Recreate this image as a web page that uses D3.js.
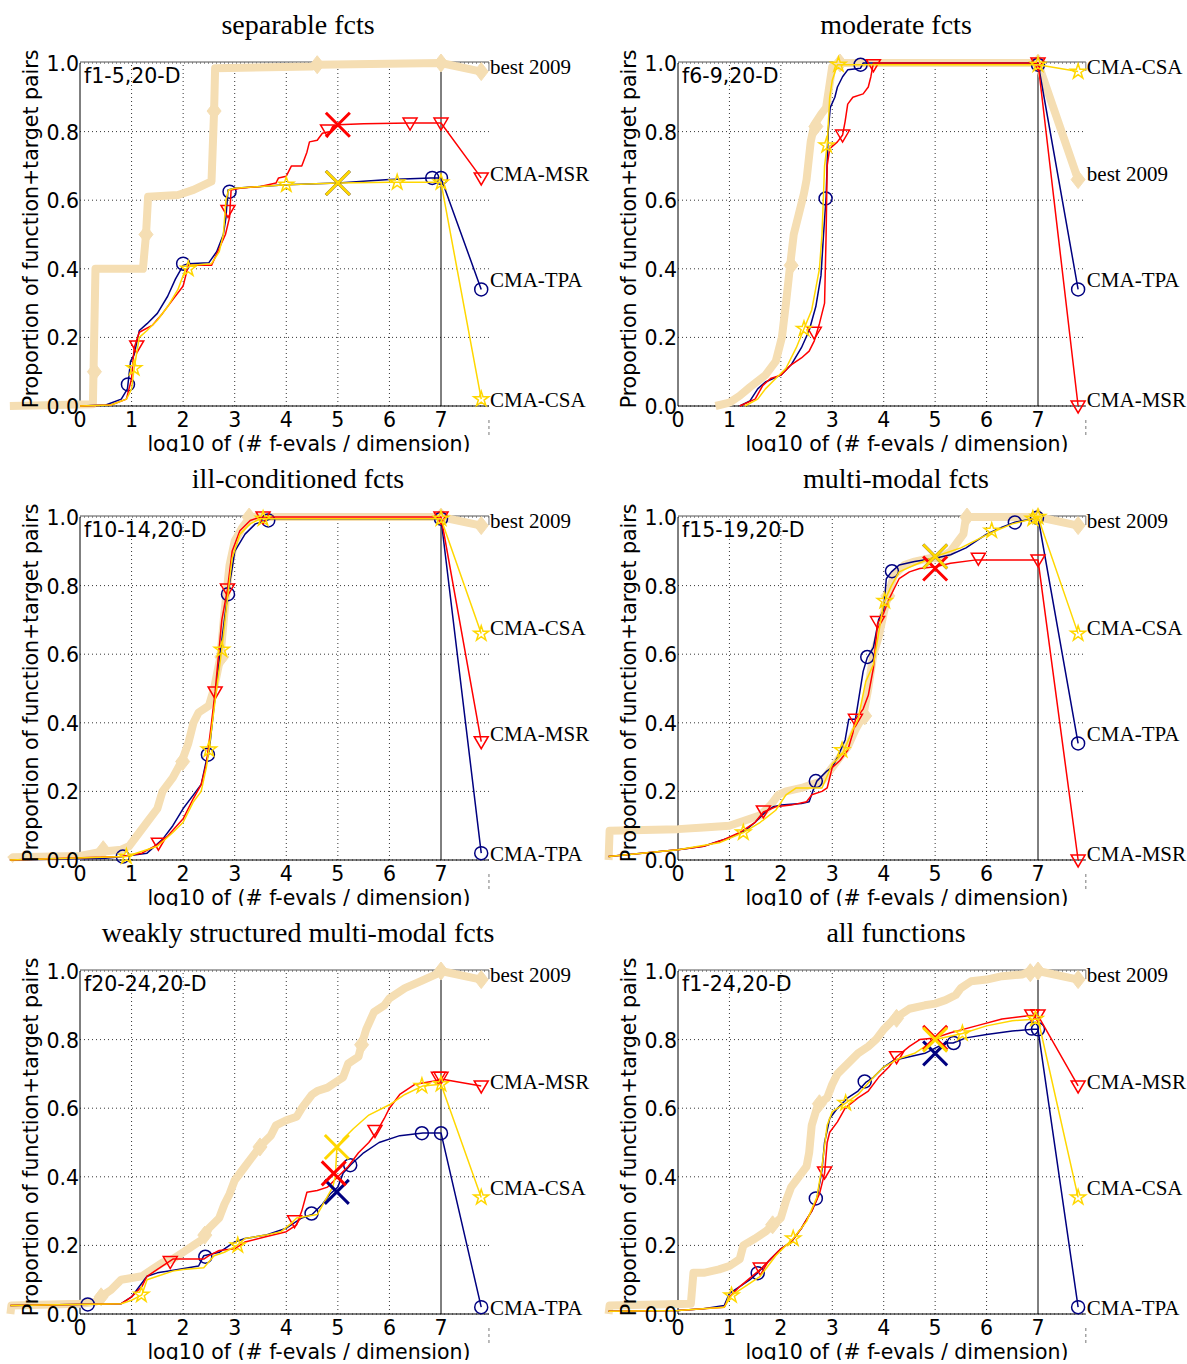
<!DOCTYPE html>
<html lang="en">
<head>
    <meta charset="UTF-8">
    <title>ECDF 20-D</title>
    <script src="https://cdn.jsdelivr.net/npm/d3@7"></script>
    <style>
        body { margin: 0; background: #fff; }
    </style>
</head>
<body>
<script type="text/javascript">
    // ---- data ----
    var titles = ['separable fcts', 'moderate fcts', 'ill-conditioned fcts', 'multi-modal fcts',
        'weakly structured multi-modal fcts', 'all functions'];
    var funcGroups = ['f1-5,20-D', 'f6-9,20-D', 'f10-14,20-D', 'f15-19,20-D', 'f20-24,20-D', 'f1-24,20-D'];
    var algNames = ['best 2009', 'CMA-TPA', 'CMA-MSR', 'CMA-CSA'];
    var xTicks = [0, 1, 2, 3, 4, 5, 6, 7];
    var yTicks = [0, 0.2, 0.4, 0.6, 0.8, 1.0];
    var xLabel = 'log10 of (# f-evals / dimension)';
    var yLabel = 'Proportion of function+target pairs';

    // panel 1 : f1-5
    var p1Best = [[-1.36,0],[0.25,0.005],[0.3,0.4],[1.22,0.4],[1.28,0.5],[1.32,0.61],[1.9,0.615],[2.2,0.63],[2.55,0.655],[2.6,0.86],[2.62,0.985],[4.5,0.99],[4.6,0.995],[7,1.0],[7.78,0.975]];
    var p1BestM = [[0.28,0.1],[1.28,0.5],[2.6,0.86],[4.6,0.995],[7,1.0],[7.78,0.975]];
    var p1Tpa = [[0,0],[0.5,0.003],[0.8,0.02],[0.92,0.05],[0.98,0.13],[1.05,0.15],[1.15,0.22],[1.3,0.24],[1.5,0.27],[1.7,0.32],[1.85,0.37],[2.0,0.41],[2.1,0.415],[2.5,0.418],[2.65,0.45],[2.78,0.5],[2.83,0.55],[2.87,0.63],[3.0,0.635],[3.5,0.64],[4,0.645],[5,0.65],[6,0.66],[6.8,0.665],[7,0.665],[7.78,0.34]];
    var p1TpaM = [[0.93,0.063],[2.0,0.415],[2.9,0.625],[6.83,0.665],[7,0.665],[7.78,0.34]];
    var p1Msr = [[0,0],[0.6,0.003],[0.9,0.02],[1.0,0.08],[1.05,0.17],[1.15,0.215],[1.4,0.235],[1.6,0.27],[1.8,0.31],[2.0,0.35],[2.1,0.41],[2.55,0.41],[2.7,0.46],[2.82,0.5],[2.9,0.55],[2.93,0.63],[3.1,0.635],[3.5,0.64],[3.8,0.65],[3.85,0.665],[4.0,0.67],[4.1,0.7],[4.3,0.7],[4.4,0.74],[4.45,0.77],[4.6,0.775],[4.7,0.795],[4.85,0.8],[4.9,0.815],[5,0.82],[5.5,0.823],[6.4,0.825],[7,0.825],[7.78,0.665]];
    var p1MsrM = [[1.1,0.175],[2.87,0.57],[4.8,0.805],[6.4,0.825],[7,0.825],[7.78,0.665]];
    var p1Csa = [[0,0],[0.6,0.003],[0.9,0.02],[1.0,0.05],[1.05,0.11],[1.15,0.2],[1.3,0.22],[1.5,0.25],[1.7,0.29],[1.9,0.34],[2.05,0.4],[2.15,0.41],[2.55,0.415],[2.7,0.45],[2.78,0.5],[2.83,0.6],[2.88,0.63],[3.0,0.635],[3.5,0.64],[4,0.645],[5,0.65],[6,0.652],[7,0.652],[7.78,0.02]];
    var p1CsaM = [[1.05,0.11],[2.1,0.4],[4.0,0.645],[6.15,0.652],[7,0.652],[7.78,0.02]];
    var p1Cross = [null, [5, 0.65], [5, 0.82], [5, 0.65]];
    var p1LabelY = [0.988, 0.367, 0.676, 0.017];

    // panel 2 : f6-9
    var p2Best = [[0.73,0],[1.0,0.01],[1.2,0.03],[1.4,0.055],[1.7,0.09],[1.9,0.13],[2.02,0.2],[2.1,0.3],[2.18,0.41],[2.25,0.5],[2.35,0.56],[2.45,0.62],[2.5,0.66],[2.58,0.77],[2.65,0.82],[2.78,0.85],[2.88,0.87],[2.95,0.94],[3.0,0.99],[3.15,1.0],[7,1.0],[7.78,0.66]];
    var p2BestM = [[2.2,0.41],[2.68,0.815],[3.15,1.0],[7,1.0],[7.78,0.66]];
    var p2Tpa = [[1.2,0],[1.4,0.015],[1.55,0.05],[1.7,0.07],[2.0,0.09],[2.2,0.12],[2.4,0.17],[2.55,0.22],[2.68,0.29],[2.78,0.38],[2.83,0.5],[2.88,0.61],[2.92,0.8],[2.96,0.87],[3.05,0.9],[3.1,0.93],[3.2,0.96],[3.3,0.98],[3.55,0.985],[3.6,1.0],[7,1.0],[7.78,0.34]];
    var p2TpaM = [[2.87,0.605],[3.55,0.995],[7,0.995],[7.78,0.34]];
    var p2Msr = [[1.2,0],[1.5,0.02],[1.65,0.06],[1.8,0.08],[2.0,0.09],[2.2,0.12],[2.4,0.14],[2.55,0.16],[2.65,0.19],[2.75,0.24],[2.85,0.3],[2.88,0.5],[2.9,0.7],[2.95,0.75],[3.1,0.77],[3.2,0.79],[3.25,0.83],[3.3,0.88],[3.4,0.9],[3.6,0.91],[3.7,0.93],[3.75,0.96],[3.8,1.0],[7,1.0],[7.78,0.0]];
    var p2MsrM = [[2.65,0.215],[3.2,0.79],[3.8,0.995],[7,1.0],[7.78,0.0]];
    var p2Csa = [[1.3,0],[1.55,0.02],[1.7,0.05],[1.9,0.08],[2.1,0.11],[2.3,0.17],[2.45,0.225],[2.6,0.28],[2.75,0.4],[2.8,0.5],[2.85,0.7],[2.9,0.76],[2.95,0.9],[3.0,0.95],[3.1,0.995],[7,0.995],[7.78,0.975]];
    var p2CsaM = [[2.45,0.225],[2.89,0.76],[3.12,0.995],[7,0.995],[7.78,0.975]];
    var p2Cross = [null, null, null, null];
    var p2LabelY = [0.676, 0.367, 0.017, 0.988];

    // panel 3 : f10-14
    var p3Best = [[-1.36,0],[-1.3,0.008],[0,0.012],[0.45,0.025],[0.8,0.03],[0.95,0.04],[1.1,0.07],[1.3,0.11],[1.5,0.15],[1.6,0.2],[1.8,0.24],[1.98,0.29],[2.1,0.34],[2.2,0.4],[2.3,0.43],[2.5,0.45],[2.6,0.5],[2.72,0.59],[2.8,0.72],[2.9,0.86],[3.0,0.93],[3.15,0.97],[3.3,1.0],[7,1.0],[7.78,0.975]];
    var p3BestM = [[0.45,0.03],[1.99,0.287],[2.75,0.592],[3.28,1.0],[7,1.0],[7.78,0.975]];
    var p3Tpa = [[-1.36,0],[0.5,0.005],[0.83,0.01],[1.3,0.02],[1.6,0.06],[1.8,0.1],[2.0,0.15],[2.2,0.19],[2.35,0.22],[2.45,0.29],[2.5,0.31],[2.6,0.45],[2.7,0.58],[2.8,0.7],[2.87,0.78],[2.95,0.85],[3.0,0.9],[3.2,0.95],[3.4,0.98],[3.6,0.99],[3.7,0.995],[7,0.995],[7.78,0.02]];
    var p3TpaM = [[0.83,0.01],[2.48,0.307],[2.87,0.775],[3.65,0.99],[7,0.995],[7.78,0.02]];
    var p3Msr = [[-1.36,0],[0.8,0.01],[1.2,0.02],[1.5,0.045],[1.7,0.07],[2.0,0.12],[2.2,0.18],[2.35,0.22],[2.45,0.28],[2.55,0.4],[2.62,0.49],[2.75,0.7],[2.86,0.79],[2.95,0.9],[3.1,0.96],[3.3,0.99],[3.5,1.0],[7,1.0],[7.78,0.345]];
    var p3MsrM = [[1.52,0.049],[2.62,0.49],[2.86,0.79],[3.55,1.0],[7,1.0],[7.78,0.345]];
    var p3Csa = [[-1.36,0],[0.9,0.01],[1.5,0.04],[1.8,0.08],[2.0,0.11],[2.2,0.17],[2.35,0.2],[2.45,0.27],[2.5,0.32],[2.65,0.5],[2.75,0.615],[2.85,0.75],[2.95,0.88],[3.1,0.95],[3.3,0.98],[3.5,0.995],[7,0.995],[7.78,0.66]];
    var p3CsaM = [[0.9,0.01],[2.5,0.322],[2.75,0.613],[3.55,0.995],[7,0.995],[7.78,0.66]];
    var p3Cross = [null, null, null, null];
    var p3LabelY = [0.988, 0.017, 0.367, 0.676];

    // panel 4 : f15-19
    var p4Best = [[-1.35,0],[-1.33,0.085],[0,0.09],[0.5,0.095],[1.0,0.1],[1.3,0.115],[1.6,0.13],[1.8,0.16],[1.95,0.19],[2.1,0.2],[2.4,0.21],[2.6,0.22],[2.8,0.23],[3.0,0.27],[3.15,0.3],[3.3,0.33],[3.45,0.38],[3.6,0.42],[3.7,0.5],[3.8,0.6],[3.9,0.65],[4.0,0.72],[4.08,0.77],[4.2,0.83],[4.4,0.86],[4.6,0.87],[4.9,0.88],[5.1,0.88],[5.3,0.9],[5.45,0.93],[5.55,0.95],[5.6,1.0],[7,1.0],[7.78,0.975]];
    var p4BestM = [[3.63,0.42],[4.08,0.77],[5.62,1.0],[7,1.0],[7.78,0.975]];
    var p4Tpa = [[-1.35,0.01],[0,0.03],[0.5,0.04],[1.0,0.065],[1.3,0.085],[1.5,0.11],[1.7,0.14],[1.85,0.155],[2.0,0.16],[2.4,0.165],[2.55,0.17],[2.62,0.2],[2.7,0.23],[2.9,0.26],[3.0,0.27],[3.1,0.3],[3.25,0.35],[3.32,0.41],[3.45,0.41],[3.6,0.55],[3.68,0.59],[3.8,0.62],[3.9,0.7],[4.0,0.73],[4.05,0.82],[4.15,0.84],[4.3,0.86],[4.6,0.87],[5.0,0.88],[5.3,0.89],[5.6,0.91],[6.0,0.95],[6.3,0.97],[6.55,0.985],[6.9,0.995],[7,1.0],[7.78,0.34]];
    var p4TpaM = [[2.68,0.23],[3.68,0.592],[4.16,0.842],[6.55,0.984],[6.98,0.998],[7.78,0.34]];
    var p4Msr = [[-1.35,0.01],[0,0.03],[0.5,0.04],[0.9,0.06],[1.2,0.08],[1.5,0.11],[1.66,0.14],[1.9,0.155],[2.2,0.16],[2.5,0.17],[2.6,0.19],[2.8,0.2],[2.9,0.21],[3.0,0.27],[3.15,0.29],[3.3,0.32],[3.4,0.37],[3.45,0.41],[3.6,0.44],[3.7,0.48],[3.8,0.56],[3.88,0.69],[4.0,0.72],[4.1,0.76],[4.2,0.79],[4.3,0.82],[4.5,0.84],[4.7,0.85],[5.0,0.855],[5.3,0.865],[5.8,0.875],[7,0.875],[7.78,0.0]];
    var p4MsrM = [[1.66,0.143],[3.45,0.41],[3.88,0.695],[5.84,0.88],[7,0.875],[7.78,0.0]];
    var p4Csa = [[-1.35,0.01],[0,0.03],[0.8,0.05],[1.27,0.08],[1.6,0.11],[1.9,0.145],[2.1,0.19],[2.3,0.21],[2.8,0.21],[3.0,0.28],[3.2,0.31],[3.4,0.38],[3.5,0.41],[3.65,0.52],[3.8,0.57],[3.9,0.66],[4.0,0.75],[4.15,0.8],[4.3,0.84],[4.6,0.86],[5.0,0.885],[5.5,0.91],[6.1,0.955],[6.5,0.98],[6.9,0.995],[7,1.0],[7.78,0.66]];
    var p4CsaM = [[1.27,0.08],[3.19,0.32],[4.02,0.755],[6.1,0.96],[6.9,0.995],[7,1.0],[7.78,0.66]];
    var p4Cross = [null, [5, 0.885], [5, 0.85], [5, 0.885]];
    var p4LabelY = [0.988, 0.367, 0.017, 0.676];

    // panel 5 : f20-24
    var p5Best = [[-1.35,0],[-1.33,0.025],[0,0.03],[0.3,0.035],[0.4,0.05],[0.6,0.07],[0.8,0.1],[1.0,0.105],[1.2,0.11],[1.4,0.13],[1.6,0.15],[1.8,0.16],[2.0,0.18],[2.2,0.2],[2.4,0.22],[2.5,0.25],[2.7,0.28],[2.8,0.32],[2.9,0.35],[3.0,0.39],[3.2,0.43],[3.4,0.47],[3.5,0.49],[3.7,0.52],[3.8,0.55],[4.0,0.565],[4.2,0.575],[4.3,0.6],[4.5,0.64],[4.6,0.65],[4.8,0.66],[5.0,0.68],[5.1,0.69],[5.2,0.73],[5.3,0.74],[5.4,0.75],[5.45,0.78],[5.55,0.83],[5.7,0.88],[5.9,0.9],[6.0,0.92],[6.3,0.95],[6.6,0.97],[6.9,0.99],[7,1.0],[7.78,0.975]];
    var p5BestM = [[0.41,0.05],[2.42,0.23],[3.49,0.487],[5.46,0.785],[7,1.0],[7.78,0.975]];
    var p5Tpa = [[-1.35,0.025],[0.8,0.03],[1.0,0.05],[1.15,0.08],[1.3,0.11],[1.5,0.12],[1.9,0.13],[2.3,0.14],[2.4,0.17],[2.7,0.18],[2.9,0.2],[3.0,0.21],[3.2,0.22],[3.6,0.23],[4.0,0.25],[4.3,0.28],[4.5,0.29],[4.7,0.32],[4.85,0.35],[5.0,0.37],[5.1,0.41],[5.25,0.435],[5.5,0.47],[5.8,0.5],[6.2,0.52],[6.65,0.528],[7,0.528],[7.78,0.02]];
    var p5TpaM = [[0.15,0.028],[2.43,0.167],[4.49,0.293],[5.24,0.434],[6.63,0.527],[7,0.527],[7.78,0.02]];
    var p5Msr = [[-1.35,0.025],[0.8,0.03],[1.0,0.05],[1.2,0.08],[1.3,0.11],[1.5,0.13],[1.75,0.155],[1.8,0.16],[2.4,0.16],[2.5,0.17],[2.7,0.185],[3.0,0.19],[3.2,0.21],[3.6,0.225],[4.0,0.24],[4.2,0.26],[4.3,0.3],[4.4,0.355],[4.6,0.36],[4.8,0.37],[4.9,0.385],[5.0,0.4],[5.2,0.43],[5.4,0.47],[5.6,0.5],[5.75,0.53],[5.9,0.57],[6.0,0.6],[6.2,0.64],[6.5,0.67],[6.9,0.68],[7,0.685],[7.78,0.665]];
    var p5MsrM = [[1.75,0.153],[4.16,0.272],[5.72,0.535],[6.95,0.69],[7,0.69],[7.78,0.665]];
    var p5Csa = [[-1.35,0.025],[0.8,0.03],[1.0,0.04],[1.2,0.056],[1.3,0.1],[1.5,0.11],[1.8,0.125],[2.0,0.13],[2.4,0.135],[2.6,0.17],[2.8,0.18],[3.05,0.2],[3.2,0.22],[3.6,0.23],[3.9,0.24],[4.1,0.265],[4.2,0.28],[4.6,0.29],[4.75,0.33],[4.9,0.37],[4.95,0.4],[4.98,0.48],[5.1,0.51],[5.3,0.54],[5.6,0.58],[6.0,0.61],[6.3,0.64],[6.65,0.665],[7,0.67],[7.78,0.34]];
    var p5CsaM = [[1.19,0.056],[3.06,0.2],[6.63,0.665],[7,0.67],[7.78,0.34]];
    var p5Cross = [null, [4.98, 0.356], [4.92, 0.41], [4.98, 0.487]];
    var p5LabelY = [0.988, 0.017, 0.676, 0.367];

    // panel 6 : f1-24
    var p6Best = [[-1.35,0],[-1.33,0.025],[0.25,0.03],[0.3,0.12],[0.5,0.12],[0.8,0.13],[1.0,0.14],[1.2,0.16],[1.27,0.2],[1.5,0.22],[1.7,0.24],[1.85,0.26],[2.0,0.28],[2.1,0.33],[2.2,0.37],[2.3,0.39],[2.4,0.41],[2.5,0.43],[2.55,0.47],[2.6,0.55],[2.7,0.6],[2.75,0.615],[2.9,0.63],[3.0,0.67],[3.1,0.7],[3.3,0.73],[3.5,0.76],[3.7,0.78],[3.85,0.8],[4.0,0.83],[4.2,0.86],[4.3,0.87],[4.5,0.89],[4.8,0.9],[5.0,0.905],[5.2,0.915],[5.4,0.93],[5.5,0.95],[5.7,0.97],[6.0,0.975],[6.3,0.985],[6.7,0.99],[6.85,1.0],[7,1.0],[7.78,0.975]];
    var p6BestM = [[1.84,0.26],[2.75,0.613],[4.25,0.862],[6.85,0.995],[7,1.0],[7.78,0.975]];
    var p6Tpa = [[-1.35,0.008],[0,0.01],[0.5,0.015],[0.9,0.025],[1.0,0.06],[1.2,0.08],[1.4,0.1],[1.55,0.12],[1.8,0.16],[2.0,0.19],[2.2,0.21],[2.4,0.25],[2.6,0.3],[2.7,0.335],[2.8,0.42],[2.85,0.5],[2.95,0.57],[3.1,0.6],[3.3,0.63],[3.5,0.65],[3.65,0.675],[3.8,0.69],[4.0,0.72],[4.2,0.74],[4.5,0.75],[4.8,0.76],[5.0,0.775],[5.2,0.79],[5.35,0.79],[5.6,0.805],[6.0,0.815],[6.5,0.825],[6.9,0.83],[7,0.83],[7.78,0.02]];
    var p6TpaM = [[1.55,0.119],[2.68,0.337],[3.63,0.678],[5.36,0.79],[6.88,0.832],[7,0.83],[7.78,0.02]];
    var p6Msr = [[-1.35,0.008],[0,0.01],[0.9,0.02],[1.0,0.05],[1.2,0.08],[1.6,0.13],[1.8,0.16],[2.0,0.19],[2.2,0.21],[2.4,0.25],[2.6,0.3],[2.75,0.35],[2.85,0.41],[2.9,0.5],[2.95,0.53],[3.1,0.56],[3.25,0.6],[3.5,0.63],[3.7,0.65],[3.9,0.69],[4.1,0.72],[4.25,0.75],[4.5,0.78],[4.7,0.8],[5.0,0.805],[5.3,0.82],[5.8,0.84],[6.3,0.86],[6.85,0.87],[7,0.87],[7.78,0.665]];
    var p6MsrM = [[1.6,0.134],[2.85,0.414],[4.25,0.75],[6.88,0.872],[7,0.872],[7.78,0.665]];
    var p6Csa = [[-1.35,0.008],[0,0.01],[0.9,0.02],[1.04,0.054],[1.3,0.08],[1.6,0.11],[1.9,0.17],[2.1,0.2],[2.24,0.22],[2.5,0.27],[2.7,0.34],[2.8,0.43],[2.9,0.55],[3.0,0.59],[3.26,0.615],[3.5,0.64],[3.8,0.69],[4.0,0.72],[4.3,0.745],[4.6,0.76],[5.0,0.8],[5.53,0.818],[6.0,0.84],[6.5,0.855],[7,0.86],[7.78,0.34]];
    var p6CsaM = [[1.04,0.054],[2.24,0.22],[3.26,0.615],[5.53,0.818],[6.95,0.86],[7.78,0.34]];
    var p6Cross = [null, [5, 0.76], [5, 0.805], [5, 0.8]];
    var p6LabelY = [0.988, 0.017, 0.676, 0.367];

    var panels = [
        {lines: [p1Best, p1Tpa, p1Msr, p1Csa], marks: [p1BestM, p1TpaM, p1MsrM, p1CsaM], cross: p1Cross, labelY: p1LabelY},
        {lines: [p2Best, p2Tpa, p2Msr, p2Csa], marks: [p2BestM, p2TpaM, p2MsrM, p2CsaM], cross: p2Cross, labelY: p2LabelY},
        {lines: [p3Best, p3Tpa, p3Msr, p3Csa], marks: [p3BestM, p3TpaM, p3MsrM, p3CsaM], cross: p3Cross, labelY: p3LabelY},
        {lines: [p4Best, p4Tpa, p4Msr, p4Csa], marks: [p4BestM, p4TpaM, p4MsrM, p4CsaM], cross: p4Cross, labelY: p4LabelY},
        {lines: [p5Best, p5Tpa, p5Msr, p5Csa], marks: [p5BestM, p5TpaM, p5MsrM, p5CsaM], cross: p5Cross, labelY: p5LabelY},
        {lines: [p6Best, p6Tpa, p6Msr, p6Csa], marks: [p6BestM, p6TpaM, p6MsrM, p6CsaM], cross: p6Cross, labelY: p6LabelY}
    ];

    // ---- style / layout ----
    var colors = ['#f5deb3', '#000080', '#ff0000', '#ffd700'];
    var widths = [8, 1.5, 1.5, 1.5];
    var colLeft = [80, 678], colSeven = [441, 1038];
    var rowTop = [0, 454, 908];
    var sans = 'DejaVu Sans', serif = 'Liberation Serif';
    var sansSize = '20.5px';
    var xMax = 7.93;

    var svg = d3.select('body').append('svg')
            .attr('width', 1187)
            .attr('height', 1364)
            .style('display', 'block');

    var symbols = [
        'M0,-9L7,0L0,9L-7,0Z',                 // diamond
        d3.symbol().type(d3.symbolCircle).size(Math.PI * 6.5 * 6.5)(),
        'M-7,-5L7,-5L0,7Z',                    // triangle down
        d3.symbol().type(d3.symbolStar).size(70)()
    ];

    panels.forEach(function (p, k) {
        var col = k % 2, row = Math.floor(k / 2);
        var top = rowTop[row];
        var x = d3.scaleLinear().domain([0, 7]).range([colLeft[col], colSeven[col]]);
        var y = d3.scaleLinear().domain([0, 1]).range([top + 406, top + 63]);
        var cellX = col * 600, cellW = col ? 587 : 600;

        svg.append('clipPath').attr('id', 'cell' + k)
                .append('rect')
                .attr('x', cellX).attr('y', top)
                .attr('width', cellW).attr('height', 452);

        var g = svg.append('g').attr('clip-path', 'url(#cell' + k + ')');

        // dotted grid
        g.selectAll('.gx').data(xTicks.slice(1, 7)).enter().append('line')
                .attr('x1', function (d) { return x(d); })
                .attr('x2', function (d) { return x(d); })
                .attr('y1', y(0)).attr('y2', y(1))
                .attr('stroke', '#000').attr('stroke-width', 0.8)
                .attr('stroke-dasharray', '1,3');
        g.selectAll('.gy').data(yTicks).enter().append('line')
                .attr('x1', x(0)).attr('x2', x(xMax))
                .attr('y1', function (d) { return y(d); })
                .attr('y2', function (d) { return y(d); })
                .attr('stroke', '#000').attr('stroke-width', 0.8)
                .attr('stroke-dasharray', '1,3');

        // frame
        g.append('line').attr('x1', x(0)).attr('x2', x(xMax)).attr('y1', y(1) - 1).attr('y2', y(1) - 1)
                .attr('stroke', '#555').attr('stroke-width', 1);
        g.append('line').attr('x1', x(xMax)).attr('x2', x(xMax)).attr('y1', y(1) - 1).attr('y2', y(1) + 8)
                .attr('stroke', '#777').attr('stroke-width', 1);
        g.append('line').attr('x1', x(xMax)).attr('x2', x(xMax)).attr('y1', y(0) + 14).attr('y2', y(0) + 30)
                .attr('stroke', '#777').attr('stroke-width', 1).attr('stroke-dasharray', '3,3');
        g.append('line').attr('x1', x(0)).attr('x2', x(0)).attr('y1', y(0)).attr('y2', y(1))
                .attr('stroke', '#000').attr('stroke-width', 1);
        g.append('line').attr('x1', x(0)).attr('x2', x(xMax)).attr('y1', y(0)).attr('y2', y(0))
                .attr('stroke', '#000').attr('stroke-width', 1);
        g.append('line').attr('x1', x(7)).attr('x2', x(7)).attr('y1', y(0)).attr('y2', y(1))
                .attr('stroke', '#000').attr('stroke-width', 1);

        var line = d3.line()
                .x(function (d) { return x(d[0]); })
                .y(function (d) { return y(d[1]); });

        // curves + markers, best 2009 first (underneath)
        p.lines.forEach(function (pts, s) {
            g.append('path')
                    .attr('d', line(pts))
                    .attr('fill', 'none')
                    .attr('stroke', colors[s])
                    .attr('stroke-width', widths[s])
                    .attr('stroke-linejoin', 'round');
            g.selectAll('.m' + s).data(p.marks[s]).enter().append('path')
                    .attr('d', symbols[s])
                    .attr('transform', function (d) { return 'translate(' + x(d[0]) + ',' + y(d[1]) + ')'; })
                    .attr('fill', s === 0 ? colors[0] : 'none')
                    .attr('stroke', colors[s])
                    .attr('stroke-width', s === 0 ? 1 : 1.5);
        });

        // big crosses at 1e5
        p.cross.forEach(function (c, s) {
            if (!c) return;
            var cx = x(c[0]), cy = y(c[1]), r = 12;
            g.append('path')
                    .attr('d', 'M' + (cx - r) + ',' + (cy - r) + 'L' + (cx + r) + ',' + (cy + r) +
                            'M' + (cx - r) + ',' + (cy + r) + 'L' + (cx + r) + ',' + (cy - r))
                    .attr('stroke', colors[s])
                    .attr('stroke-width', 3);
        });

        // tick labels
        g.selectAll('.tx').data(xTicks).enter().append('text')
                .attr('x', function (d) { return x(d); })
                .attr('y', y(0) + 21)
                .attr('text-anchor', 'middle')
                .style('font-family', sans).style('font-size', sansSize)
                .text(function (d) { return d; });
        g.selectAll('.ty').data(yTicks).enter().append('text')
                .attr('x', x(0) - 1)
                .attr('y', function (d) { return y(d) + 8; })
                .attr('text-anchor', 'end')
                .style('font-family', sans).style('font-size', sansSize)
                .text(function (d) { return d3.format('.1f')(d); });

        // axis titles
        g.append('text')
                .attr('x', x(0) + 229).attr('y', top + 451)
                .attr('text-anchor', 'middle')
                .style('font-family', sans).style('font-size', sansSize)
                .text(xLabel);
        g.append('text')
                .attr('transform', 'translate(' + (x(0) - 42) + ',' + (top + 229) + ') rotate(-90)')
                .attr('text-anchor', 'middle')
                .style('font-family', sans).style('font-size', sansSize)
                .text(yLabel);

        // panel title and function group
        g.append('text')
                .attr('x', x(0) + 218).attr('y', top + 34)
                .attr('text-anchor', 'middle')
                .style('font-family', serif).style('font-size', '28px')
                .text(titles[k]);
        g.append('text')
                .attr('x', x(0) + 4).attr('y', y(1) + 20)
                .style('font-family', sans).style('font-size', sansSize)
                .text(funcGroups[k]);

        // algorithm names on the right
        algNames.forEach(function (name, s) {
            g.append('text')
                    .attr('x', x(xMax) + 1)
                    .attr('y', y(p.labelY[s]))
                    .attr('dominant-baseline', 'central')
                    .style('font-family', serif).style('font-size', '21px')
                    .text(name);
        });
    });
</script>
</body>
</html>
